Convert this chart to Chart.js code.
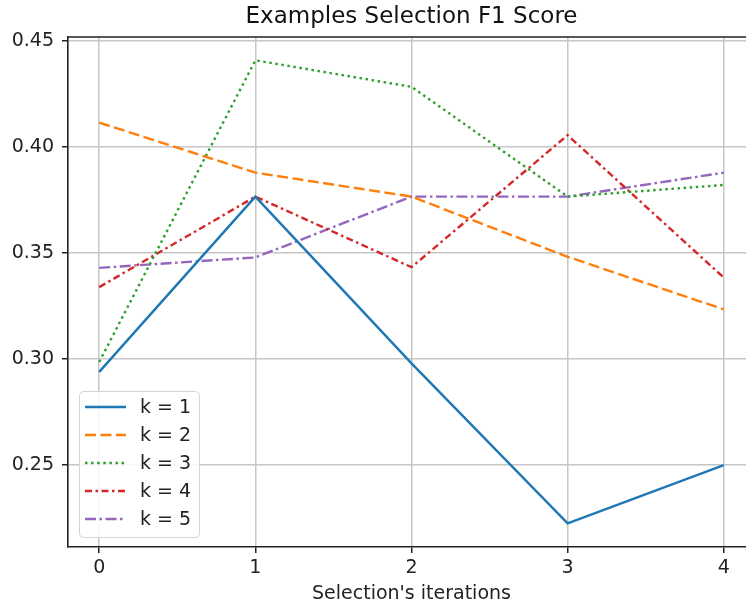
<!DOCTYPE html>
<html><head><meta charset="utf-8">
<script src="https://cdn.jsdelivr.net/npm/chart.js@4"></script>
<style>
html,body{margin:0;padding:0;background:#fff;overflow:hidden;width:746px;height:604px}
#wrap{position:absolute;left:0;top:0;width:760px;height:604px}
</style>
</head><body><div id="wrap"><canvas id="c" width="760" height="604"></canvas></div>
<script>
const iterations = [0, 1, 2, 3, 4];
const k1 = [0.294, 0.3767, 0.298, 0.2226, 0.25];
const k2 = [0.4116, 0.388, 0.3767, 0.3483, 0.3235];
const k3 = [0.2987, 0.441, 0.4285, 0.3767, 0.3822];
const k4 = [0.334, 0.3767, 0.3434, 0.4057, 0.3385];
const k5 = [0.3431, 0.348, 0.3767, 0.3767, 0.388];
const seriesLabels = ['k = 1', 'k = 2', 'k = 3', 'k = 4', 'k = 5'];
const xTicks = [0, 1, 2, 3, 4];
const yTicks = [0.25, 0.30, 0.35, 0.40, 0.45];
const titleText = 'Examples Selection F1 Score';
const xTitle = "Selection's iterations";

const FONT = 'DejaVu Sans';
const colors = ['#1f77b4', '#ff7f0e', '#2ca02c', '#d62728', '#9467bd'];
const dashes = [[], [11, 4.5], [2.5, 3.6], [7, 3.5, 2.5, 3.5], [11, 3.5, 2.5, 3.5]];
const seriesValues = [k1, k2, k3, k4, k5];

const datasets = seriesValues.map((vals, i) => ({
  label: seriesLabels[i],
  data: iterations.map((x, j) => ({x: x, y: vals[j]})),
  borderColor: colors[i],
  backgroundColor: colors[i],
  borderWidth: 2.4,
  borderDash: dashes[i],
  borderCapStyle: 'butt',
  pointRadius: 0,
  tension: 0,
  fill: false
}));

const framePlugin = {
  id: 'frame',
  afterDraw(chart) {
    const {ctx, chartArea: a} = chart;
    ctx.save();
    // top spine
    ctx.strokeStyle = '#222';
    ctx.lineWidth = 1.6;
    ctx.beginPath();
    ctx.moveTo(a.left - 0.8, a.top);
    ctx.lineTo(a.right + 0.8, a.top);
    ctx.stroke();
    // title centred over the axes
    ctx.fillStyle = '#111';
    ctx.font = '23px "' + FONT + '"';
    ctx.textAlign = 'center';
    ctx.textBaseline = 'middle';
    ctx.fillText(titleText, (a.left + a.right) / 2, 17);
    // legend
    const lx = a.left + 11, lw = 120, lh = 146;
    const ly = a.bottom - 10 - lh;
    ctx.beginPath();
    ctx.roundRect(lx + 0.5, ly + 0.5, lw, lh, 4);
    ctx.fillStyle = 'rgba(255,255,255,0.85)';
    ctx.fill();
    ctx.strokeStyle = '#d4d4d4';
    ctx.lineWidth = 1;
    ctx.stroke();
    chart.data.datasets.forEach((ds, i) => {
      const y = ly + 16 + i * 28;
      ctx.beginPath();
      ctx.setLineDash(ds.borderDash || []);
      ctx.lineCap = 'butt';
      ctx.strokeStyle = ds.borderColor;
      ctx.lineWidth = ds.borderWidth;
      ctx.moveTo(lx + 6, y);
      ctx.lineTo(lx + 47, y);
      ctx.stroke();
      ctx.setLineDash([]);
      ctx.fillStyle = '#222';
      ctx.font = '19px "' + FONT + '"';
      ctx.textBaseline = 'middle';
      ctx.textAlign = 'left';
      ctx.fillText(ds.label, lx + 61, y + 1);
    });
    ctx.restore();
  }
};

new Chart(document.getElementById('c'), {
  type: 'line',
  data: {datasets},
  plugins: [framePlugin],
  options: {
    responsive: false,
    animation: false,
    devicePixelRatio: 1,
    layout: {padding: {left: 0, right: 5, top: 37, bottom: 0}},
    plugins: {
      legend: {display: false},
      tooltip: {enabled: false},
      title: {display: false}
    },
    scales: {
      x: {
        type: 'linear',
        min: -0.2,
        max: 4.2,
        afterBuildTicks(s) { s.ticks = xTicks.map(v => ({value: v})); },
        afterFit(s) { s.height = 57; },
        ticks: {
          color: '#222',
          font: {family: FONT, size: 19, lineHeight: 1.2},
          padding: 4,
          callback: v => String(v)
        },
        grid: {color: '#c6c6c6', lineWidth: 1.5, tickColor: '#222', tickWidth: 1.5, tickLength: 6, drawTicks: true},
        border: {display: true, color: '#222', width: 1.6},
        title: {
          display: true,
          text: xTitle,
          color: '#222',
          font: {family: FONT, size: 19, lineHeight: 1.0},
          padding: {top: 0, bottom: 0}
        }
      },
      y: {
        type: 'linear',
        min: 0.2114,
        max: 0.452,
        afterBuildTicks(s) { s.ticks = yTicks.map(v => ({value: v})); },
        afterFit(s) { s.width = 68; },
        ticks: {
          color: '#222',
          font: {family: FONT, size: 19, lineHeight: 1.2},
          padding: 8,
          callback: v => Number(v).toFixed(2)
        },
        grid: {color: '#c6c6c6', lineWidth: 1.5, tickColor: '#222', tickWidth: 1.5, tickLength: 6, drawTicks: true},
        border: {display: true, color: '#222', width: 1.6}
      }
    }
  }
});
</script>
</body></html>
